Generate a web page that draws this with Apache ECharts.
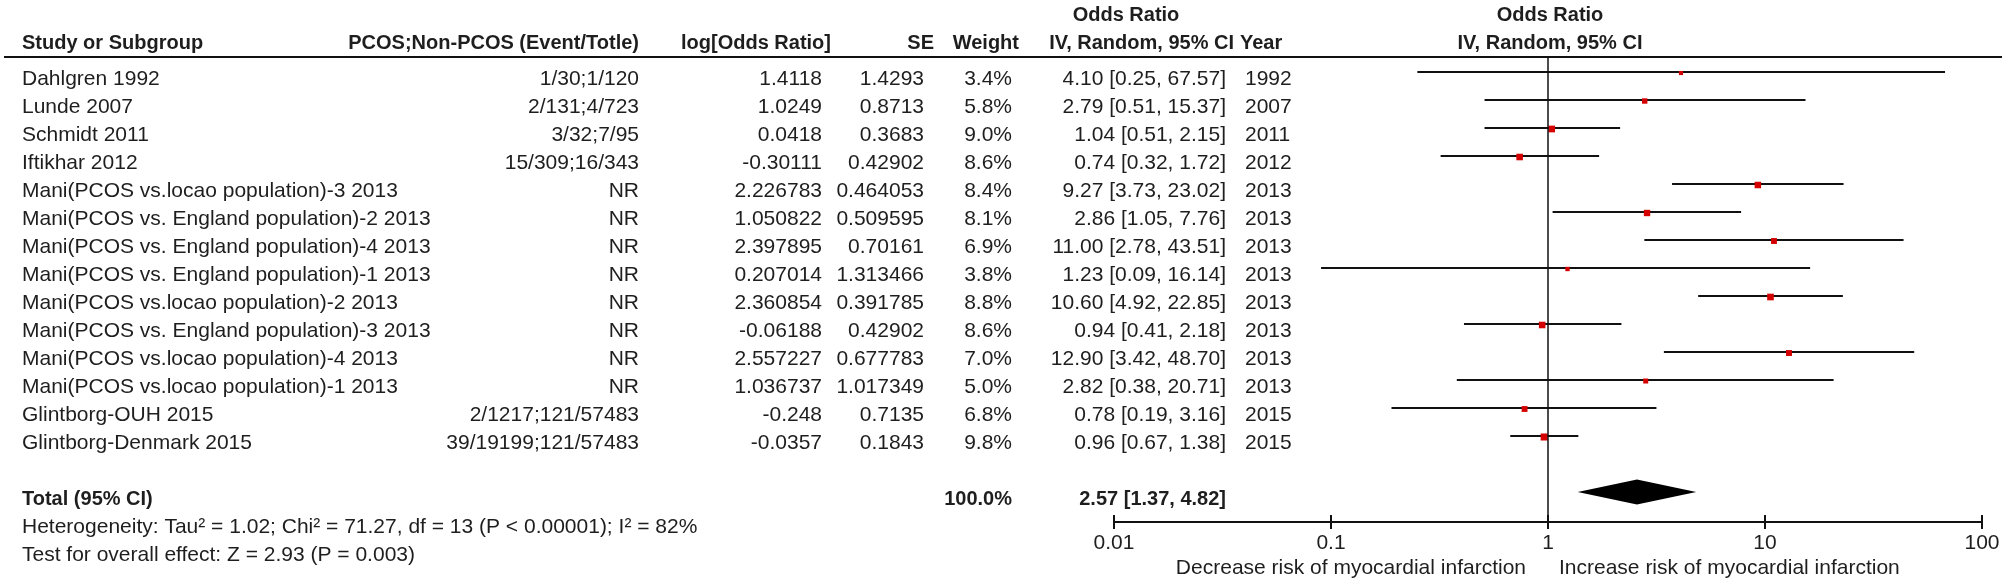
<!DOCTYPE html>
<html><head><meta charset="utf-8">
<script src="https://cdn.jsdelivr.net/npm/echarts@6/dist/echarts.min.js"></script>
<style>html,body{margin:0;padding:0;background:#fff}#c{width:2008px;height:586px}</style>
</head><body><div id="c"></div>
<script>
const studies = ['Dahlgren 1992','Lunde 2007','Schmidt 2011','Iftikhar 2012',
  'Mani(PCOS vs.locao population)-3 2013','Mani(PCOS vs. England population)-2 2013',
  'Mani(PCOS vs. England population)-4 2013','Mani(PCOS vs. England population)-1 2013',
  'Mani(PCOS vs.locao population)-2 2013','Mani(PCOS vs. England population)-3 2013',
  'Mani(PCOS vs.locao population)-4 2013','Mani(PCOS vs.locao population)-1 2013',
  'Glintborg-OUH 2015','Glintborg-Denmark 2015'];
const events = ['1/30;1/120','2/131;4/723','3/32;7/95','15/309;16/343','NR','NR','NR','NR','NR','NR','NR','NR','2/1217;121/57483','39/19199;121/57483'];
const logOR = ['1.4118','1.0249','0.0418','-0.30111','2.226783','1.050822','2.397895','0.207014','2.360854','-0.06188','2.557227','1.036737','-0.248','-0.0357'];
const seVals = ['1.4293','0.8713','0.3683','0.42902','0.464053','0.509595','0.70161','1.313466','0.391785','0.42902','0.677783','1.017349','0.7135','0.1843'];
const weights = [3.4,5.8,9.0,8.6,8.4,8.1,6.9,3.8,8.8,8.6,7.0,5.0,6.8,9.8];
const oddsRatio = [4.10,2.79,1.04,0.74,9.27,2.86,11.00,1.23,10.60,0.94,12.90,2.82,0.78,0.96];
const ciLow = [0.25,0.51,0.51,0.32,3.73,1.05,2.78,0.09,4.92,0.41,3.42,0.38,0.19,0.67];
const ciHigh = [67.57,15.37,2.15,1.72,23.02,7.76,43.51,16.14,22.85,2.18,48.70,20.71,3.16,1.38];
const years = ['1992','2007','2011','2012','2013','2013','2013','2013','2013','2013','2013','2013','2015','2015'];
const totalOR = 2.57, totalLow = 1.37, totalHigh = 4.82, totalWeight = '100.0%';
const tickValues = [0.01,0.1,1,10,100];
const tickLabels = ['0.01','0.1','1','10','100'];
const heterogeneity = 'Heterogeneity: Tau² = 1.02; Chi² = 71.27, df = 13 (P < 0.00001); I² = 82%';
const overallTest = 'Test for overall effect: Z = 2.93 (P = 0.003)';
const leftLabel = 'Decrease risk of myocardial infarction';
const rightLabel = 'Increase risk of myocardial infarction';

const FONT = "'Liberation Sans', Arial, Helvetica, sans-serif";
const TXT = '#1e1e1e';
const FS = 21, FSB = 20;
const chart = echarts.init(document.getElementById('c'));
const fmt = v => v.toFixed(2);
const orText = i => fmt(oddsRatio[i]) + ' [' + fmt(ciLow[i]) + ', ' + fmt(ciHigh[i]) + ']';
const rowData = studies.map((s,i) => [ciLow[i], ciHigh[i], oddsRatio[i], weights[i], i]);
const TOTAL_ROW = 15;

function tickFmt(v){
  const e = Math.log10(v);
  let best = 0;
  tickValues.forEach((t,k)=>{ if (Math.abs(Math.log10(t)-e) < Math.abs(Math.log10(tickValues[best])-e)) best = k; });
  return tickLabels[best];
}

const option = {
  animation: false,
  grid: {left: 1114, right: 26, top: 58, height: 464},
  xAxis: [{
    type: 'log', logBase: 10, min: 0.01, max: 100, position: 'bottom',
    axisLine: {onZero: false, lineStyle: {color: '#111', width: 2}},
    axisTick: {length: 7, lineStyle: {color: '#111', width: 2}},
    axisLabel: {fontFamily: FONT, fontSize: FS, color: TXT, margin: 11, formatter: tickFmt},
    splitLine: {show: false}, minorTick: {show: false}
  },{
    type: 'log', logBase: 10, min: 0.01, max: 100, position: 'bottom', offset: 0,
    axisLine: {show: false, onZero: false},
    axisTick: {inside: true, length: 7, lineStyle: {color: '#111', width: 2}},
    axisLabel: {show: false}, splitLine: {show: false}
  }],
  yAxis: {type: 'value', inverse: true, min: -0.5, max: 16.0714, show: false},
  series: [{
    type: 'custom',
    data: rowData,
    encode: {x: [0,1,2], y: 4},
    renderItem: (params, api) => {
      const r = api.value(4);
      const a = api.coord([api.value(0), r]);
      const b = api.coord([api.value(1), r]);
      const m = api.coord([api.value(2), r]);
      const s = 2.24 * Math.sqrt(api.value(3));
      return {type: 'group', children: [
        {type: 'line', shape: {x1: a[0], y1: a[1], x2: b[0], y2: b[1]}, style: {stroke: '#111', lineWidth: 2}},
        {type: 'rect', shape: {x: m[0]-s/2, y: m[1]-s/2+1, width: s, height: s}, style: {fill: '#d40000'}}
      ]};
    },
    markLine: {
      symbol: 'none', silent: true, animation: false,
      label: {show: false},
      lineStyle: {color: '#111', width: 1.5, type: 'solid'},
      data: [{xAxis: 1}]
    }
  },{
    type: 'custom',
    data: [[totalLow, totalHigh, totalOR, TOTAL_ROW]],
    encode: {x: [0,1,2], y: 3},
    renderItem: (params, api) => {
      const r = api.value(3);
      const l = api.coord([api.value(0), r]);
      const h = api.coord([api.value(1), r]);
      const t = api.coord([api.value(2), r - 0.45]);
      const btm = api.coord([api.value(2), r + 0.45]);
      return {type: 'polygon', shape: {points: [l, t, h, btm]}, style: {fill: '#000'}};
    }
  }]
};
chart.setOption(option);

const g = [];
function txt(x, y, text, align, bold){
  g.push({type: 'text', x: x, y: y, silent: true,
    style: {text: text, fontFamily: FONT, fontSize: bold ? FSB : FS, fontWeight: bold ? 'bold' : 'normal',
      fill: TXT, align: align, verticalAlign: 'middle'}});
}
// headers
const H1 = 15, H2 = 43;
txt(22, H2, 'Study or Subgroup', 'left', true);
txt(639, H2, 'PCOS;Non-PCOS (Event/Totle)', 'right', true);
txt(831, H2, 'log[Odds Ratio]', 'right', true);
txt(934, H2, 'SE', 'right', true);
txt(1019, H2, 'Weight', 'right', true);
txt(1126, H1, 'Odds Ratio', 'center', true);
txt(1234, H2, 'IV, Random, 95% CI', 'right', true);
txt(1240, H2, 'Year', 'left', true);
txt(1550, H1, 'Odds Ratio', 'center', true);
txt(1550, H2, 'IV, Random, 95% CI', 'center', true);
g.push({type: 'line', silent: true, shape: {x1: 4, y1: 57, x2: 2002, y2: 57}, style: {stroke: '#111', lineWidth: 2}});

const OFF = 7;
studies.forEach((s, i) => {
  const y = chart.convertToPixel({yAxisIndex: 0}, i) + OFF;
  txt(22, y, s, 'left', false);
  txt(639, y, events[i], 'right', false);
  txt(822, y, logOR[i], 'right', false);
  txt(924, y, seVals[i], 'right', false);
  txt(1012, y, weights[i].toFixed(1) + '%', 'right', false);
  txt(1226, y, orText(i), 'right', false);
  txt(1245, y, years[i], 'left', false);
});
const ty = chart.convertToPixel({yAxisIndex: 0}, TOTAL_ROW) + OFF;
txt(22, ty, 'Total (95% CI)', 'left', true);
txt(1012, ty, totalWeight, 'right', true);
txt(1226, ty, fmt(totalOR) + ' [' + fmt(totalLow) + ', ' + fmt(totalHigh) + ']', 'right', true);
txt(22, ty + 28, heterogeneity, 'left', false);
txt(22, ty + 56, overallTest, 'left', false);
const x1 = chart.convertToPixel({xAxisIndex: 0}, 1);
txt(x1 - 22, 568, leftLabel, 'right', false);
txt(x1 + 11, 568, rightLabel, 'left', false);

chart.setOption({graphic: {elements: g}});
</script></body></html>
